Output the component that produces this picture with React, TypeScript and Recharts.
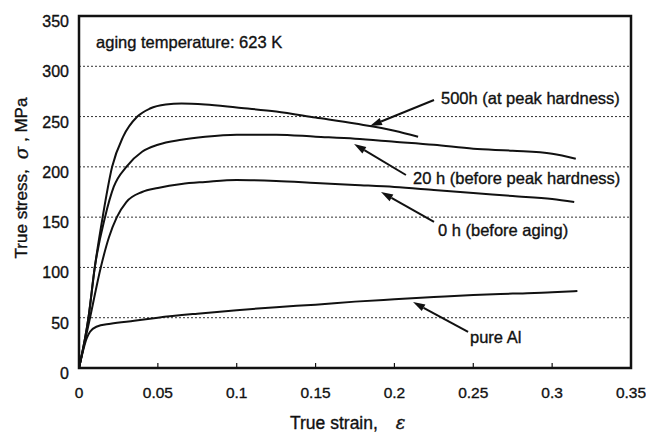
import { CartesianGrid, Label, Line, LineChart, ReferenceArea, ReferenceDot, ReferenceLine, XAxis, YAxis } from "recharts";

const FONT = "'Liberation Sans', Arial, sans-serif";
const INK = "#111";
const HEAVY = { stroke: INK, strokeWidth: 0.35 };

const STRAIN_TICKS = [0, 0.05, 0.1, 0.15, 0.2, 0.25, 0.3, 0.35];
const STRESS_TICKS = [0, 50, 100, 150, 200, 250, 300, 350];

// 500 h (at peak hardness)
const strain500 = [0, 0.006, 0.01, 0.015, 0.021, 0.028, 0.037, 0.045, 0.055, 0.065, 0.08, 0.1, 0.125, 0.15, 0.175, 0.2, 0.215];
const stress500 = [0, 50, 100, 150, 200, 230, 250, 258, 262, 263, 262, 259, 255, 249, 243, 236, 230];

// 20 h (before peak hardness)
const strain20 = [0, 0.006, 0.01, 0.0165, 0.022, 0.03, 0.04, 0.05, 0.065, 0.08, 0.1, 0.125, 0.15, 0.175, 0.2, 0.225, 0.25, 0.275, 0.3, 0.315];
const stress20 = [0, 50, 100, 150, 180, 200, 215, 222, 227, 230, 232, 232, 230, 228, 225, 222, 218, 216, 213, 208];

// 0 h (before aging)
const strain0 = [0, 0.007, 0.0138, 0.019, 0.024, 0.03, 0.04, 0.05, 0.065, 0.08, 0.1, 0.125, 0.15, 0.175, 0.2, 0.225, 0.25, 0.275, 0.3, 0.314];
const stress0 = [0, 50, 100, 130, 150, 165, 175, 179, 183, 185, 187, 186, 184, 182, 180, 177, 174, 171, 168, 165];

// pure Al
const strainAl = [0, 0.005, 0.007, 0.011, 0.02, 0.035, 0.05, 0.075, 0.1, 0.125, 0.15, 0.175, 0.2, 0.225, 0.25, 0.275, 0.3, 0.316];
const stressAl = [0, 30, 36, 41, 44, 47, 50, 54, 57.5, 60.5, 63, 66, 68.3, 70.5, 72.6, 74, 75.3, 76.6];

const zip = (xs: number[], ys: number[]) => xs.map((x, i) => ({ strain: x, stress: ys[i] }));

const SERIES = [
  { name: "500h", data: zip(strain500, stress500) },
  { name: "20h", data: zip(strain20, stress20) },
  { name: "0h", data: zip(strain0, stress0) },
  { name: "pureAl", data: zip(strainAl, stressAl) },
];

// annotation text anchors and arrows, in data units
const NOTES = [
  { text: "500h (at peak hardness)", at: [0.2295, 268.5], tail: [0.2251, 266.5], head: [0.1845, 240.6] },
  { text: "20 h (before peak hardness)", at: [0.2118, 188.9], tail: [0.2073, 191.9], head: [0.1744, 222.7] },
  { text: "0 h (before aging)", at: [0.2276, 137.2], tail: [0.2251, 145.2], head: [0.1915, 175.0] },
  { text: "pure Al", at: [0.2479, 30.8], tail: [0.2467, 35.8], head: [0.2118, 65.6] },
];

function XTick({ x, y, payload }: any) {
  const v = payload.value;
  const inner = v > 0 && v < 0.35;
  return (
    <g>
      {inner && <line x1={x} x2={x} y1={y} y2={y - 5} stroke={INK} strokeWidth={1.2} />}
      <text x={x} y={y + 30} textAnchor="middle" fontSize={15.5} fontFamily={FONT} fill={INK} {...HEAVY}>
        {String(v)}
      </text>
    </g>
  );
}

function YTick({ x, y, payload }: any) {
  return (
    <text x={x - 10} y={y + 11} textAnchor="end" fontSize={16} fontFamily={FONT} fill={INK} {...HEAVY}>
      {String(payload.value)}
    </text>
  );
}

function XTitle({ viewBox }: any) {
  const x0 = viewBox.x + 211;
  return (
    <text x={x0} y={viewBox.y + 61} fontSize={17.5} fontFamily={FONT} fill={INK} {...HEAVY}>
      True strain,
      <tspan dx={18} fontFamily="'DejaVu Serif', serif" fontStyle="italic" fontSize={18}>ε</tspan>
    </text>
  );
}

function YTitle({ viewBox }: any) {
  const cx = viewBox.x + 21;
  const cy = viewBox.y + viewBox.height / 2 - 14;
  return (
    <text
      transform={`translate(${cx},${cy}) rotate(-90)`}
      textAnchor="middle"
      dominantBaseline="central"
      fontSize={17}
      fontFamily={FONT}
      fill={INK}
      {...HEAVY}
    >
      True stress,
      <tspan dx={10} fontFamily="'DejaVu Serif', serif" fontStyle="italic" fontSize={18}>σ</tspan>
      <tspan dx={5}>, MPa</tspan>
    </text>
  );
}

function Arrow({ x1, y1, x2, y2 }: any) {
  const ang = Math.atan2(y2 - y1, x2 - x1);
  const len = 12;
  const w = 3.8;
  const bx = x2 - len * Math.cos(ang);
  const by = y2 - len * Math.sin(ang);
  const px = -Math.sin(ang) * w;
  const py = Math.cos(ang) * w;
  return (
    <g>
      <line x1={x1} y1={y1} x2={bx} y2={by} stroke={INK} strokeWidth={2} />
      <polygon points={`${x2},${y2} ${bx + px},${by + py} ${bx - px},${by - py}`} fill={INK} />
    </g>
  );
}

const noteText = (text: string) => (p: any) => (
  <text x={p.cx} y={p.cy} dy={6} fontSize={16.5} fontFamily={FONT} fill={INK} {...HEAVY}>
    {text}
  </text>
);

export default function App() {
  return (
    <div style={{ position: "absolute", left: 0, top: 0, background: "#fff" }}>
      <LineChart width={646} height={432} margin={{ top: 16, right: 15, bottom: 0, left: 0 }}>
        <CartesianGrid horizontal vertical={false} stroke="#333" strokeDasharray="2 2" />
        <XAxis
          type="number"
          dataKey="strain"
          domain={[0, 0.35]}
          ticks={STRAIN_TICKS}
          allowDataOverflow
          height={64}
          axisLine={false}
          tickLine={false}
          tickSize={0}
          tickMargin={0}
          tick={<XTick />}
          interval={0}
        >
          <Label content={<XTitle />} />
        </XAxis>
        <YAxis
          type="number"
          domain={[0, 350]}
          ticks={STRESS_TICKS}
          allowDataOverflow
          width={79}
          axisLine={false}
          tickLine={false}
          tickSize={0}
          tickMargin={0}
          tick={<YTick />}
          interval={0}
        >
          <Label content={<YTitle />} />
        </YAxis>
        {SERIES.map((s) => (
          <Line
            key={s.name}
            data={s.data}
            dataKey="stress"
            type="monotone"
            stroke={INK}
            strokeWidth={2}
            dot={false}
            isAnimationActive={false}
          />
        ))}
        <ReferenceArea x1={0} x2={0.35} y1={0} y2={350} fill="none" stroke={INK} strokeWidth={2.5} />
        {NOTES.map((n) => (
          <ReferenceLine
            key={n.text + "-arrow"}
            segment={[
              { x: n.tail[0], y: n.tail[1] },
              { x: n.head[0], y: n.head[1] },
            ]}
            shape={Arrow}
          />
        ))}
        {NOTES.map((n) => (
          <ReferenceDot key={n.text} x={n.at[0]} y={n.at[1]} r={0} shape={noteText(n.text)} />
        ))}
        <ReferenceDot x={0.0108} y={324.2} r={0} shape={noteText("aging temperature: 623 K")} />
      </LineChart>
    </div>
  );
}
